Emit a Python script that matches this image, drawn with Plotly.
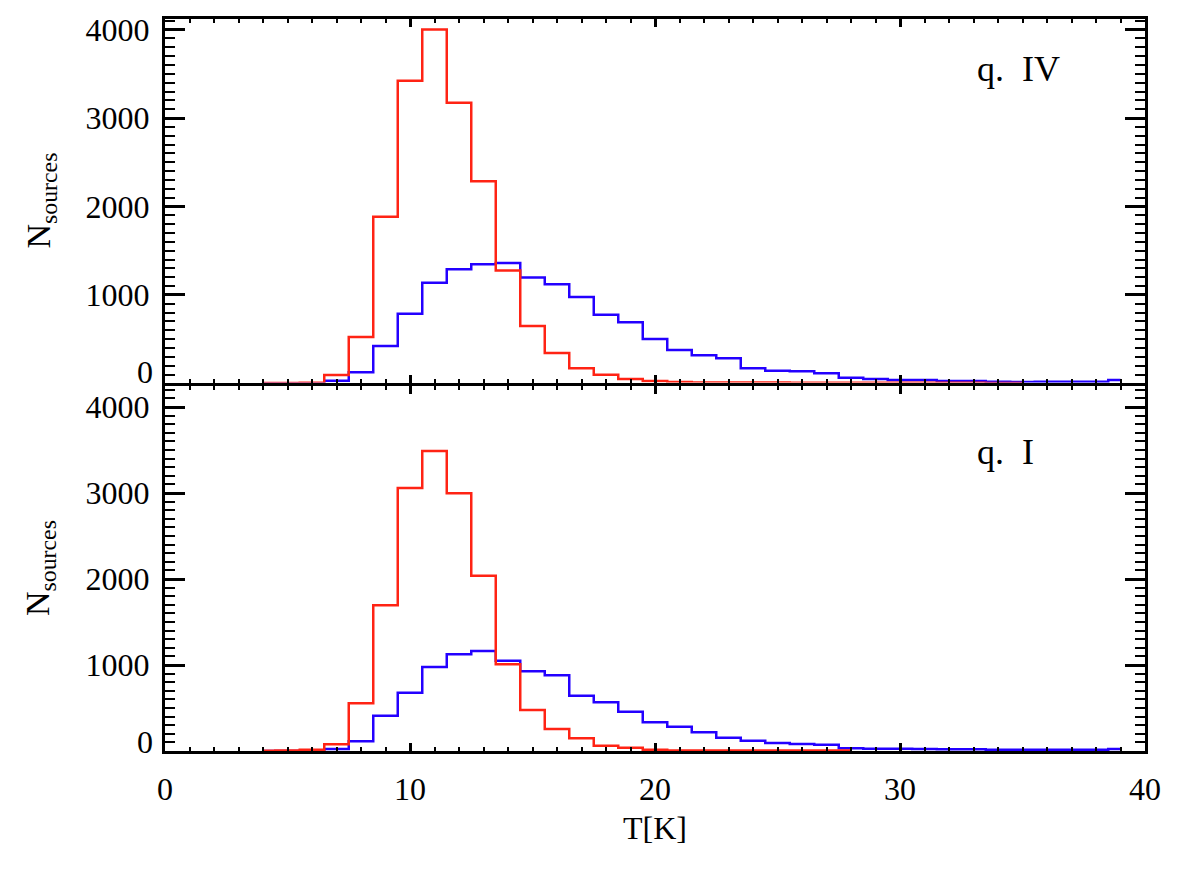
import plotly.graph_objects as go

# Temperature bin centres [K]
t_top_red = list(range(4, 36))
t_top_blue = list(range(4, 40))
t_bot_red = list(range(4, 29))
t_bot_blue = list(range(4, 40))

# q. IV (top panel)
top_red = [5, 5, 8, 95, 525, 1885, 3423, 4000, 3174, 2285, 1277, 649, 344, 171, 98, 50,
           27, 16, 10, 10, 9, 9, 8, 8, 8, 7, 7, 6, 6, 6, 5, 5]
top_blue = [0, 0, 0, 31, 126, 423, 788, 1139, 1290, 1347, 1361, 1197, 1120, 977, 777, 691,
            502, 378, 318, 284, 171, 144, 137, 114, 64, 50, 38, 38, 27, 27, 19, 16, 19, 19, 19, 38]

# q. I (bottom panel)
bot_red = [3, 5, 15, 78, 554, 1694, 3058, 3488, 2996, 2039, 1008, 477, 255, 147, 62, 38,
           15, 6, 5, 5, 5, 5, 5, 5, 5]
bot_blue = [0, 0, 0, 23, 112, 411, 678, 977, 1124, 1163, 1048, 928, 882, 643, 566, 457,
            333, 283, 217, 155, 120, 93, 81, 73, 31, 27, 27, 23, 19, 19, 15, 15, 15, 15, 15, 23]

x_ticks = [0, 10, 20, 30, 40]
y_ticks = [0, 1000, 2000, 3000, 4000]
y_ticktext = ["", "1000", "2000", "3000", "4000"]

RED = "rgb(255,35,20)"
BLUE = "rgb(35,0,255)"
FONT = "Liberation Serif"

fig = go.Figure()
fig.add_trace(go.Scatter(x=t_top_blue, y=top_blue, mode="lines", line=dict(color=BLUE, width=2.5, shape="hvh"),
                         xaxis="x2", yaxis="y2", showlegend=False))
fig.add_trace(go.Scatter(x=t_top_red, y=top_red, mode="lines", line=dict(color=RED, width=2.5, shape="hvh"),
                         xaxis="x2", yaxis="y2", showlegend=False))
fig.add_trace(go.Scatter(x=t_bot_blue, y=bot_blue, mode="lines", line=dict(color=BLUE, width=2.5, shape="hvh"),
                         xaxis="x", yaxis="y", showlegend=False))
fig.add_trace(go.Scatter(x=t_bot_red, y=bot_red, mode="lines", line=dict(color=RED, width=2.5, shape="hvh"),
                         xaxis="x", yaxis="y", showlegend=False))

PH = 886 - 19 - 135  # plot height in px
bot_dom = [0, 365.5 / PH]
top_dom = [368.5 / PH, 1]

common_x = dict(range=[0, 40], tickmode="array", tickvals=x_ticks, ticks="inside", ticklen=8, tickwidth=2.5,
                tickcolor="black", showline=True, linewidth=3, linecolor="black", mirror="ticks",
                showgrid=False, zeroline=False,
                minor=dict(tickmode="linear", tick0=0, dtick=1, ticks="inside", ticklen=4, tickwidth=2,
                           tickcolor="black", showgrid=False),
                tickfont=dict(family=FONT, size=32, color="black"))
common_y = dict(tickmode="array", tickvals=y_ticks, ticktext=y_ticktext, ticks="inside", ticklen=20,
                tickwidth=2.5, tickcolor="black", showline=True, linewidth=3, linecolor="black",
                mirror="ticks", showgrid=False, zeroline=False,
                minor=dict(tickmode="linear", tick0=0, dtick=100, ticks="inside", ticklen=10, tickwidth=2,
                           tickcolor="black", showgrid=False),
                tickfont=dict(family=FONT, size=32, color="black"), ticklabelstandoff=6)

fig.update_layout(
    width=1180, height=886,
    margin=dict(l=165, r=35, t=19, b=135),
    paper_bgcolor="white", plot_bgcolor="white",
    xaxis=dict(domain=[0, 1], anchor="y", ticklabelstandoff=8, **common_x),
    xaxis2=dict(domain=[0, 1], anchor="y2", matches="x", showticklabels=False, **common_x),
    yaxis=dict(domain=bot_dom, anchor="x", range=[0, 4250], **common_y),
    yaxis2=dict(domain=top_dom, anchor="x2", range=[10, 4120], **common_y),
)

ann_font = dict(family=FONT, size=32, color="black")
fig.add_annotation(text="0", xref="paper", x=-0.0102, xanchor="right", yref="y2", y=129, yanchor="middle",
                   showarrow=False, font=ann_font)
fig.add_annotation(text="0", xref="paper", x=-0.0102, xanchor="right", yref="y", y=105, yanchor="middle",
                   showarrow=False, font=ann_font)
fig.add_annotation(text="q.&nbsp; IV", xref="x2", x=33.06, xanchor="left", yref="y2", y=3550, yanchor="middle",
                   showarrow=False, font=dict(family=FONT, size=36, color="black"))
fig.add_annotation(text="q.&nbsp; I", xref="x", x=33.06, xanchor="left", yref="y", y=3477, yanchor="middle",
                   showarrow=False, font=dict(family=FONT, size=36, color="black"))
for yc in [(751 - 200.5) / PH, (751 - 568) / PH]:
    fig.add_annotation(text="N<sub>sources</sub>", textangle=-90, xref="paper", x=(40 - 165) / 980,
                       xanchor="center", yref="paper", y=yc, yanchor="middle", showarrow=False,
                       font=dict(family=FONT, size=34, color="black"))
fig.add_annotation(text="T[K]", xref="paper", x=0.5, xanchor="center", yref="paper", y=-(828 - 751) / PH,
                   yanchor="middle", showarrow=False, font=ann_font)

fig.write_html("out.html")
